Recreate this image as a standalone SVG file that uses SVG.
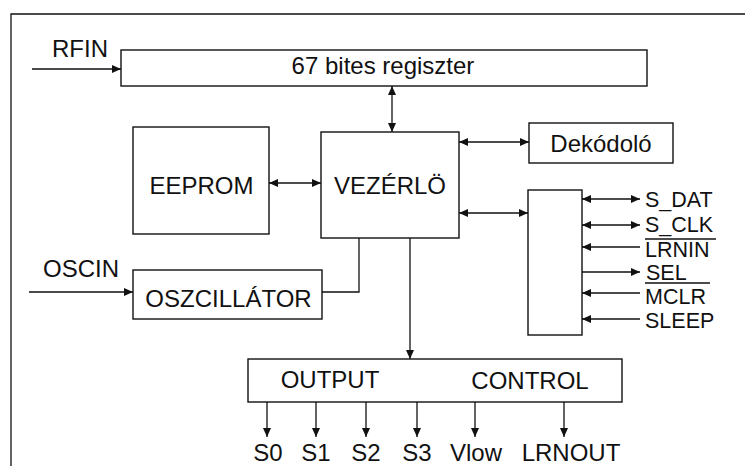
<svg xmlns="http://www.w3.org/2000/svg" width="745" height="466" viewBox="0 0 745 466">
<style>
.box{fill:#fff;stroke:#111;stroke-width:1.4}
.ln{fill:none;stroke:#111;stroke-width:1.3}
.ovl{stroke:#111;stroke-width:1.6}
text{font-family:"Liberation Sans",Arial,sans-serif;font-size:24px;fill:#111}
.c{text-anchor:middle}
.sig{font-size:21.5px}
</style>
<defs>
<marker id="ah" viewBox="0 0 9 8" refX="9" refY="4" markerWidth="9" markerHeight="8" markerUnits="userSpaceOnUse" orient="auto-start-reverse">
<path d="M0,0 L9,4 L0,8 z" fill="#111"/>
</marker>
</defs>
<rect width="745" height="466" fill="#fff"/>
<path class="ln" d="M745,14 H11 V466" stroke-width="1.6"/>

<g id="register"><rect class="box" x="121" y="50" width="526" height="36"/><text class="c" x="383" y="74" font-size="23">67 bites regiszter</text></g>
<g id="eeprom"><rect class="box" x="133" y="127" width="136" height="107"/><text class="c" x="201.5" y="194">EEPROM</text></g>
<g id="vezerlo"><rect class="box" x="321" y="132" width="138" height="106"/><text class="c" x="390" y="194">VEZÉRLÖ</text></g>
<g id="dekodolo"><rect class="box" x="529" y="123" width="144" height="40"/><text class="c" x="601" y="152">Dekódoló</text></g>
<g id="interface"><rect class="box" x="528" y="190" width="54" height="145"/></g>
<g id="oszcillator"><rect class="box" x="133" y="270" width="189" height="49"/><text class="c" x="228.5" y="307">OSZCILLÁTOR</text></g>
<g id="outputcontrol"><rect class="box" x="248" y="359" width="374" height="43"/><text class="c" x="330" y="388">OUTPUT</text><text class="c" x="530" y="389">CONTROL</text></g>

<g id="labels">
<text x="52" y="57">RFIN</text>
<text x="43" y="277">OSCIN</text>
<text class="sig" x="645" y="206.5">S_DAT</text>
<text class="sig" x="645" y="232">S_CLK</text>
<text class="sig" x="645" y="257">LRNIN</text>
<line class="ovl" x1="645" y1="239" x2="716" y2="239"/>
<text class="sig" x="646" y="280" font-size="19">SEL</text>
<text class="sig" x="645" y="304">MCLR</text>
<line class="ovl" x1="645" y1="283" x2="710" y2="283"/>
<text class="sig" x="645" y="327.5">SLEEP</text>
<text class="c" x="268" y="461">S0</text>
<text class="c" x="316" y="461">S1</text>
<text class="c" x="366" y="461">S2</text>
<text class="c" x="417" y="461">S3</text>
<text class="c" x="476" y="461">Vlow</text>
<text class="c" x="571" y="461">LRNOUT</text>
</g>

<g id="connectors">
<line class="ln" x1="32" y1="69" x2="121" y2="69" marker-end="url(#ah)"/>
<line class="ln" x1="392" y1="86" x2="392" y2="132" marker-start="url(#ah)" marker-end="url(#ah)"/>
<line class="ln" x1="269" y1="183" x2="321" y2="183" marker-start="url(#ah)" marker-end="url(#ah)"/>
<line class="ln" x1="459" y1="142" x2="529" y2="142" marker-start="url(#ah)" marker-end="url(#ah)"/>
<line class="ln" x1="459" y1="213" x2="528" y2="213" marker-start="url(#ah)" marker-end="url(#ah)"/>
<line class="ln" x1="582" y1="199" x2="640" y2="199" marker-start="url(#ah)" marker-end="url(#ah)"/>
<line class="ln" x1="582" y1="225" x2="640" y2="225" marker-start="url(#ah)" marker-end="url(#ah)"/>
<line class="ln" x1="640" y1="247" x2="582" y2="247" marker-end="url(#ah)"/>
<line class="ln" x1="582" y1="272" x2="640" y2="272" marker-end="url(#ah)"/>
<line class="ln" x1="640" y1="293" x2="582" y2="293" marker-end="url(#ah)"/>
<line class="ln" x1="640" y1="319" x2="582" y2="319" marker-end="url(#ah)"/>
<line class="ln" x1="29" y1="292" x2="133" y2="292" marker-end="url(#ah)"/>
<path class="ln" d="M322,292 H359 V238"/>
<line class="ln" x1="410" y1="238" x2="410" y2="359" marker-end="url(#ah)"/>
<line class="ln" x1="267" y1="402" x2="267" y2="437" marker-end="url(#ah)"/>
<line class="ln" x1="316" y1="402" x2="316" y2="437" marker-end="url(#ah)"/>
<line class="ln" x1="366" y1="402" x2="366" y2="437" marker-end="url(#ah)"/>
<line class="ln" x1="417" y1="402" x2="417" y2="437" marker-end="url(#ah)"/>
<line class="ln" x1="475" y1="402" x2="475" y2="437" marker-end="url(#ah)"/>
<line class="ln" x1="564" y1="402" x2="564" y2="437" marker-end="url(#ah)"/>
</g>
</svg>
